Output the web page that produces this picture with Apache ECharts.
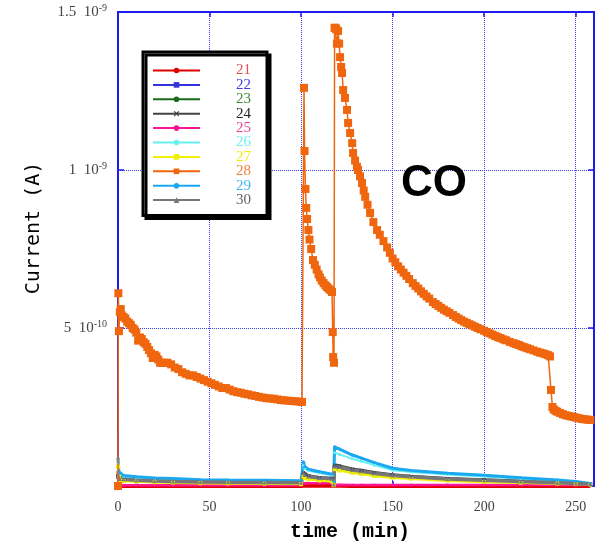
<!DOCTYPE html>
<html>
<head>
<meta charset="utf-8">
<script src="https://cdn.jsdelivr.net/npm/echarts@6/dist/echarts.min.js"></script>
<style>html,body{margin:0;padding:0;background:#fff}#c{width:602px;height:547px}</style>
</head>
<body>
<div id="c"></div>
<script>
// values in units of 1e-10 A, time in min
const X_TICKS = [0, 50, 100, 150, 200, 250];
const Y_TICK_MANTISSA = ['', '5', '1', '1.5'];
const Y_TICK_EXP = ['', '-10', '-9', '-9'];
const SERIES_NAMES = ['21', '22', '23', '24', '25', '26', '27', '28', '29', '30'];

const SERIES_28 = [
 [0,0],[0.2,6.1],[0.5,4.9],[1,5.5],[1.5,5.6],[2,5.4],[3,5.35],[4,5.3],[5,5.2],[6,5.15],[7,5.1],[8,5.0],[9,4.95],[10,4.85],
 [11,4.6],[12,4.7],[13,4.65],[14,4.55],[15,4.5],[16,4.4],[17,4.3],[18,4.2],[19,4.05],[20,4.15],[21,4.1],[22,4.0],[23,3.9],
 [24,3.9],[25,3.9],[27,3.9],[29,3.85],[31,3.75],[33,3.7],[35,3.6],[37,3.55],[39,3.5],[41,3.5],[43,3.45],[45,3.4],[47,3.35],
 [49,3.3],[51,3.25],[53,3.2],[55,3.15],[57,3.1],[59,3.1],[61,3.05],[63,3.0],[65,2.97],[67,2.95],[69,2.92],[71,2.9],[73,2.87],
 [75,2.85],[77,2.82],[79,2.8],[81,2.78],[83,2.77],[85,2.76],[87,2.74],[89,2.72],[91,2.71],[93,2.7],[95,2.69],[97,2.68],
 [99,2.67],[100.5,2.66],
 [101.6,12.6],[101.9,10.6],[102.4,9.4],[102.8,8.8],[103.3,8.45],[104,8.1],[104.6,7.8],[105.5,7.5],[106.5,7.15],[107.5,7.0],
 [108.5,6.85],[109.5,6.7],[110.3,6.6],[111.3,6.5],[112.3,6.42],[113.3,6.35],[114.1,6.3],[115,6.25],[116,6.2],[116.9,6.14],
 [117.3,4.87],[117.5,4.08],[118,3.9],
 [118.3,14.5],[118.8,14.5],[119.2,14.45],[119.6,14.0],[120.2,14.4],[120.8,14.0],[121.3,13.57],[121.9,13.26],[122.4,13.07],
 [123,12.53],[124,12.28],[125.1,11.9],[125.7,11.49],[126.8,11.17],[127.9,10.85],[128.4,10.54],[129.5,10.3],[130.5,10.1],
 [131.1,10.0],[132.2,9.8],[133.3,9.59],[134.2,9.35],[135,9.15],[136.3,8.9],[137.7,8.64],[139.5,8.35],[141.5,8.1],[143,7.95],
 [145,7.75],[147,7.55],[148.5,7.38],[150,7.2],[151.5,7.08],[153,6.95],[154.5,6.85],[156,6.75],[157.5,6.65],[159,6.55],[161,6.42],
 [162.5,6.33],[164,6.25],[165.5,6.16],[167,6.08],[168.5,6.0],[170,5.93],[172,5.82],[173.5,5.76],[175,5.7],[176.5,5.64],[178,5.58],
 [179.5,5.53],[181,5.48],[183,5.41],[184.5,5.35],[186,5.3],[187.5,5.25],[189,5.2],[190.5,5.16],[192,5.12],[193.5,5.08],[195,5.04],
 [196.5,5.0],[198,4.96],[200,4.91],[201.5,4.87],[203,4.83],[204.5,4.79],[206,4.75],[207.5,4.71],[209,4.68],[210.5,4.64],[212,4.61],
 [214,4.56],[216,4.52],[217.5,4.49],[219,4.46],[220.5,4.42],[222,4.39],[223.5,4.36],[225,4.33],[227,4.29],[229,4.25],[230.5,4.22],
 [232,4.2],[233.5,4.17],[235,4.14],[236,4.1],
 [236.5,3.04],[237.3,2.5],[238,2.42],[239,2.38],[240,2.35],[241.5,2.31],[243,2.27],[244.5,2.24],[246,2.22],[247.5,2.2],[249,2.18],
 [250.5,2.16],[252,2.14],[253.5,2.12],[255,2.11],[256.5,2.1],[258,2.09]
];

const T_LOW = [0, 0.5, 1, 3, 10, 20, 30, 45, 60, 80, 100, 101.3, 102, 104, 110, 117, 117.8, 118.3, 121, 128, 133, 140, 150, 160, 180, 200, 220, 240, 250, 258];
const V_21 = [0.01,0.01,0.0,0.0,0.0,0.0,0.0,0.0,0.0,0.0,0.0,0.01,0.01,0.01,0.01,0.01,0.0,0.01,0.01,0.0,0.0,0.0,0.0,0.0,0.0,0.0,0.0,0.0,0.0,0.0];
const V_22 = [0.30,0.24,0.19,0.18,0.15,0.14,0.12,0.11,0.10,0.095,0.09,0.36,0.31,0.27,0.22,0.20,0.05,0.58,0.55,0.46,0.43,0.36,0.30,0.26,0.20,0.16,0.12,0.09,0.07,0.05];
const V_23 = [0.33,0.25,0.20,0.19,0.16,0.15,0.13,0.12,0.11,0.10,0.095,0.38,0.33,0.28,0.23,0.21,0.05,0.60,0.57,0.48,0.45,0.38,0.31,0.27,0.21,0.17,0.13,0.095,0.075,0.05];
const V_24 = [0.40,0.30,0.24,0.22,0.19,0.17,0.15,0.14,0.13,0.12,0.11,0.42,0.37,0.32,0.26,0.24,0.06,0.66,0.63,0.53,0.49,0.42,0.35,0.30,0.23,0.19,0.15,0.105,0.085,0.06];
const V_25 = [0.05,0.03,0.025,0.02,0.02,0.02,0.02,0.02,0.02,0.02,0.02,0.09,0.09,0.085,0.085,0.085,0.02,0.035,0.035,0.03,0.03,0.03,0.03,0.03,0.03,0.03,0.03,0.03,0.03,0.03];
const V_26 = [0.70,0.38,0.34,0.29,0.26,0.23,0.22,0.19,0.18,0.17,0.16,0.65,0.55,0.48,0.41,0.34,0.12,1.05,1.00,0.86,0.78,0.66,0.50,0.44,0.36,0.30,0.23,0.17,0.12,0.07];
const V_27 = [0.61,0.30,0.19,0.16,0.14,0.12,0.105,0.09,0.08,0.07,0.06,0.30,0.25,0.21,0.17,0.14,0.03,0.53,0.49,0.42,0.38,0.32,0.26,0.23,0.17,0.13,0.10,0.075,0.06,0.04];
const V_29 = [0.88,0.45,0.40,0.33,0.29,0.25,0.24,0.20,0.19,0.18,0.17,0.77,0.61,0.53,0.45,0.37,0.15,1.24,1.17,0.98,0.88,0.74,0.56,0.49,0.40,0.34,0.26,0.19,0.14,0.08];
const V_30 = [0.36,0.28,0.22,0.21,0.18,0.16,0.14,0.13,0.12,0.11,0.10,0.40,0.35,0.30,0.25,0.23,0.05,0.62,0.60,0.51,0.47,0.40,0.33,0.29,0.22,0.18,0.14,0.10,0.08,0.055];

const LINE_COLORS = ['#e00000','#3333dd','#1a6b1a','#444444','#ff1493','#66f0f0','#f0f000','#f0660e','#1aa8f0','#777777'];
const LABEL_COLORS = ['#e05050','#4040e0','#3a8a3a','#222222','#f0408f','#70eef0','#f0f000','#f08040','#40b8f0','#666666'];

function pairs(vals) { return T_LOW.map((t, i) => [t, vals[i]]); }

const X_MARK = 'path://M0,1.5L1.5,0L5,3.5L8.5,0L10,1.5L6.5,5L10,8.5L8.5,10L5,6.5L1.5,10L0,8.5L3.5,5Z';

const lowSeries = [
  {name:'21', vals:V_21, symbol:'circle', size:2, width:4},
  {name:'22', vals:V_22, symbol:'rect', size:4, width:2},
  {name:'23', vals:V_23, symbol:'circle', size:3, width:2},
  {name:'24', vals:V_24, symbol:X_MARK, size:4, width:3.5},
  {name:'25', vals:V_25, symbol:'circle', size:3, width:2.5},
  {name:'26', vals:V_26, symbol:'circle', size:3, width:2},
  {name:'27', vals:V_27, symbol:'rect', size:4, width:2.5},
  null,
  {name:'29', vals:V_29, symbol:'circle', size:3, width:3},
  {name:'30', vals:V_30, symbol:'triangle', size:4, width:3.5}
];

const series = SERIES_NAMES.map((n, i) => {
  if (n === '28') {
    return {
      name: n, type: 'line', data: SERIES_28, symbol: 'rect', symbolSize: 8,
      lineStyle: {color: LINE_COLORS[i], width: 1.5}, itemStyle: {color: LINE_COLORS[i]},
      animation: false, z: 3
    };
  }
  const s = lowSeries[i];
  return {
    name: n, type: 'line', data: pairs(s.vals), symbol: s.symbol, symbolSize: s.size,
    lineStyle: {color: LINE_COLORS[i], width: s.width}, itemStyle: {color: LINE_COLORS[i]},
    animation: false, z: 2
  };
});

const BLUE = '#1c1cf0';
const GRID_BLUE = '#3b3bef';

const chart = echarts.init(document.getElementById('c'), null, {renderer: 'canvas'});
chart.setOption({
  backgroundColor: '#fff',
  animation: false,
  title: {
    text: 'CO', left: 396, top: 157,
    textStyle: {fontFamily: 'Liberation Sans', fontWeight: 'bold', fontSize: 44, color: '#000'}
  },
  legend: {
    orient: 'vertical', left: 143, top: 52,
    padding: [11, 16, 8, 9],
    backgroundColor: '#fff', borderColor: '#000', borderWidth: 3,
    shadowColor: '#000', shadowOffsetX: 3, shadowOffsetY: 3, shadowBlur: 0.01,
    itemWidth: 47, itemHeight: 7, itemGap: -0.6,
    selectedMode: false,
    textStyle: {fontFamily: 'Liberation Serif', fontSize: 15, lineHeight: 10, padding: [0, 0, 0, 31]},
    data: SERIES_NAMES.map((n, i) => ({name: n, textStyle: {color: LABEL_COLORS[i]}}))
  },
  grid: {left: 118, right: 8, top: 12, bottom: 61, containLabel: false},
  xAxis: [{
    type: 'value', position: 'bottom', min: 0, max: 260, interval: 50,
    axisLine: {show: true, onZero: false, lineStyle: {color: BLUE, width: 2}},
    axisTick: {show: true, inside: true, length: 5, lineStyle: {color: BLUE, width: 1.5}},
    splitLine: {show: true, lineStyle: {color: GRID_BLUE, type: 'dotted', width: 1}},
    axisLabel: {
      margin: 14, fontFamily: 'Liberation Serif', fontSize: 14, color: '#444',
      showMaxLabel: false,
      formatter: v => (X_TICKS.indexOf(v) >= 0 ? String(v) : '')
    },
    name: 'time (min)', nameLocation: 'middle', nameGap: 36,
    nameTextStyle: {fontFamily: 'Liberation Mono', fontWeight: 'bold', fontSize: 20, color: '#000', padding: [0, 12, 0, 0]}
  }, {
    type: 'value', position: 'top', min: 0, max: 260, interval: 50,
    axisLine: {show: true, onZero: false, lineStyle: {color: BLUE, width: 2}},
    axisTick: {show: true, inside: true, length: 5, lineStyle: {color: BLUE, width: 1.5}},
    axisLabel: {show: false}, splitLine: {show: false}
  }],
  yAxis: [{
    type: 'value', position: 'left', min: 0, max: 15, interval: 5,
    axisLine: {show: true, onZero: false, lineStyle: {color: BLUE, width: 2}},
    axisTick: {show: true, inside: true, length: 6, lineStyle: {color: BLUE, width: 1.5}},
    splitLine: {show: true, lineStyle: {color: GRID_BLUE, type: 'dotted', width: 1}},
    axisLabel: {
      margin: 11,
      formatter: (v, idx) => {
        const i = Math.round(v / 5);
        if (!Y_TICK_MANTISSA[i]) return '';
        return '{a|' + Y_TICK_MANTISSA[i] + '  10}{s|' + Y_TICK_EXP[i] + '}';
      },
      rich: {
        a: {fontFamily: 'Liberation Serif', fontSize: 15, color: '#444', lineHeight: 18},
        s: {fontFamily: 'Liberation Serif', fontSize: 10, color: '#444', lineHeight: 10, verticalAlign: 'top'}
      }
    },
    name: 'Current (A)', nameLocation: 'middle', nameGap: 74,
    nameTextStyle: {fontFamily: 'DejaVu Sans Mono', fontSize: 20, color: '#000', padding: [0, 0, 0, 42]}
  }, {
    type: 'value', position: 'right', min: 0, max: 15, interval: 5,
    axisLine: {show: true, onZero: false, lineStyle: {color: BLUE, width: 2}},
    axisTick: {show: true, inside: true, length: 6, lineStyle: {color: BLUE, width: 1.5}},
    axisLabel: {show: false}, splitLine: {show: false}
  }],
  series: series
});
</script>
</body>
</html>
